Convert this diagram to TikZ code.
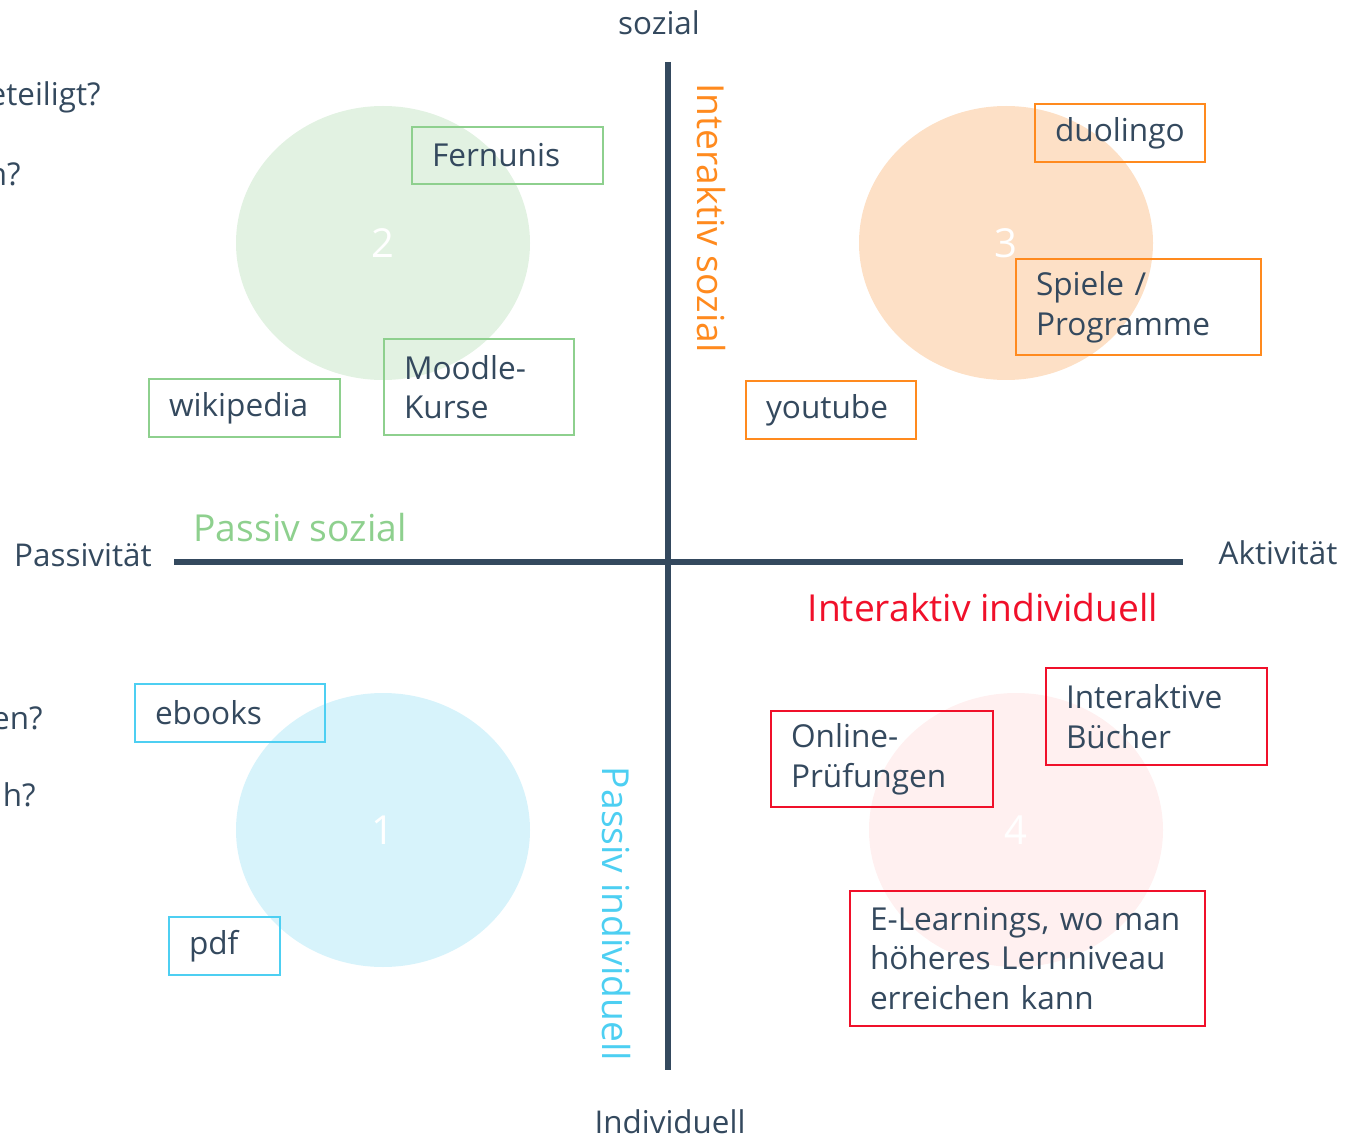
\documentclass[tikz,border=0pt]{standalone}
\usepackage{fontspec}
\usetikzlibrary{shapes.geometric}
\setmainfont{Open Sans}
\definecolor{txt}{HTML}{34495E}
\definecolor{axis}{HTML}{34495E}
\definecolor{cgreen}{HTML}{8ED08E}
\definecolor{corange}{HTML}{FF8A1E}
\definecolor{ccyan}{HTML}{4DCFF2}
\definecolor{cred}{HTML}{F0102A}
\definecolor{fgreen}{HTML}{E2F2E2}
\definecolor{forange}{HTML}{FDE0C6}
\definecolor{fcyan}{HTML}{D7F3FB}
\definecolor{fred}{HTML}{FFF0F0}
\begin{document}
\begin{tikzpicture}[x=0.5pt,y=-0.5pt,
  norm/.style={text=txt,font=\fontsize{15.7}{20}\selectfont,inner sep=0pt},
  quad/.style={font=\fontsize{18.6}{22}\selectfont,inner sep=0pt},
  blob/.style={ellipse,minimum width=147pt,minimum height=137pt,inner sep=0pt,text=white,font=\fontsize{20}{24}\selectfont},
  ibox/.style={draw=#1,line width=1pt,text=txt,align=left,inner xsep=10pt,inner ysep=0pt,
    font=\fontsize{15.8}{19.8}\selectfont},
  axisline/.style={draw=axis,line width=3pt}]
\useasboundingbox (0,0) rectangle (1345,1139);
% circles
\node[blob,fill=fgreen] (c2) at (383,243) {2};
\node[blob,fill=forange] (c3) at (1006,243) {3};
\node[blob,fill=fcyan] (c1) at (383,830) {1};
\node[blob,fill=fred] (c4) at (1016,830) {4};
% axes
\coordinate (vt) at (668,62);
\coordinate (vb) at (668,1070);
\coordinate (hl) at (174,562);
\coordinate (hr) at (1183,562);
\draw[axisline] (vt) -- (vb);
\draw[axisline] (hl) -- (hr);
% axis labels
\node[norm] (soz) at (659,23) {sozial};
\node[norm] (ind) at (670,1122) {Individuell};
\node[norm] (pas) at (83,555) {Passivität};
\node[norm] (akt) at (1278,553) {Aktivität};
% cut-off texts at left edge
\node[norm,anchor=east] (q1) at (101,97) {eteiligt?};
\node[norm,anchor=east] (q2) at (21,174) {n?};
\node[norm,anchor=east] (q3) at (43,718) {en?};
\node[norm,anchor=east] (q4) at (36,795) {h?};
% quadrant labels
\node[quad,text=cgreen] (lps) at (300,528) {Passiv sozial};
\node[quad,text=cred] (lii) at (983,608) {Interaktiv individuell};
\node[quad,text=corange,rotate=-90] (lis) at (711,218) {Interaktiv sozial};
\node[quad,text=ccyan,rotate=-90] (lpi) at (616,914) {Passiv individuell};
% boxes
\node[ibox=cgreen,text width=75.5pt,minimum height=28.5pt] (b1) at (507.5,155.5) {Fernunis};
\node[ibox=cgreen,text width=75pt,minimum height=48pt] (b2) at (479,387) {Moodle-\\Kurse};
\node[ibox=cgreen,text width=75.5pt,minimum height=29pt] (b3) at (244.5,408) {wikipedia};
\node[ibox=corange,text width=65pt,minimum height=29pt] (b4) at (1120,133) {duolingo};
\node[ibox=corange,text width=102.5pt,minimum height=48pt] (b5) at (1138.5,307) {Spiele /\\Programme};
\node[ibox=corange,text width=65pt,minimum height=29pt] (b6) at (831,410) {youtube};
\node[ibox=ccyan,text width=75pt,minimum height=29pt] (b7) at (230,713) {ebooks};
\node[ibox=ccyan,text width=35.5pt,minimum height=29pt] (b8) at (224.5,946) {pdf};
\node[ibox=cred,text width=91pt,minimum height=48pt] (b9) at (882,759) {Online-\\Prüfungen};
\node[ibox=cred,text width=90.5pt,minimum height=48.5pt] (b10) at (1156.5,716.5) {Interaktive\\Bücher};
\node[ibox=cred,text width=157.5pt,minimum height=67.5pt] (b11) at (1027.5,958.5) {\mbox{E-Learnings, wo man}\\\mbox{höheres Lernniveau}\\\mbox{erreichen kann}};
\end{tikzpicture}
\end{document}
